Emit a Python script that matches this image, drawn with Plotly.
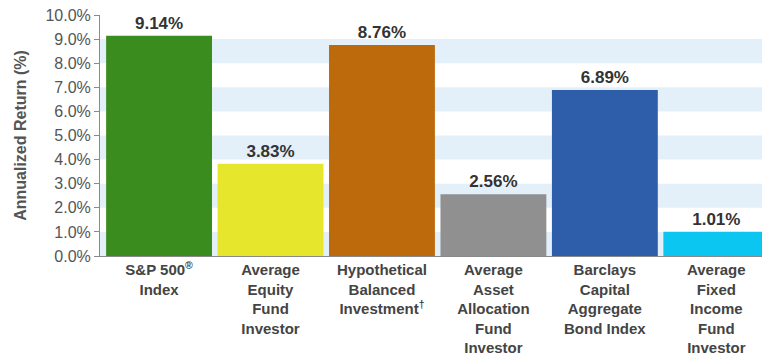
import plotly.graph_objects as go

categories = [
    "S&P 500<sup>®</sup><br>Index",
    "Average<br>Equity<br>Fund<br>Investor",
    "Hypothetical<br>Balanced<br>Investment<sup>†</sup>",
    "Average<br>Asset<br>Allocation<br>Fund<br>Investor",
    "Barclays<br>Capital<br>Aggregate<br>Bond Index",
    "Average<br>Fixed<br>Income<br>Fund<br>Investor",
]
values = [9.14, 3.83, 8.76, 2.56, 6.89, 1.01]
tick_vals = [0, 1, 2, 3, 4, 5, 6, 7, 8, 9, 10]
tick_text = [f"{v:.1f}%" for v in tick_vals]

bar_colors = ["#3a8c1e", "#e6e62c", "#bd6a0c", "#909090", "#2e5ea9", "#0bc6f0"]
band_color = "#e4f0f9"
font_family = "Liberation Sans, Arial, sans-serif"

fig = go.Figure()
fig.add_trace(go.Bar(
    x=list(range(len(categories))),
    y=values,
    marker=dict(color=bar_colors, line=dict(width=0)),
    width=0.95,
    text=[f"{v:.2f}%" for v in values],
    textposition="outside",
    textfont=dict(family=font_family, size=17, color="#333333", weight="bold"),
    cliponaxis=False,
    hoverinfo="skip",
))

shapes = []
for lo in tick_vals[:-1:2]:
    shapes.append(dict(type="rect", xref="paper", yref="y", x0=0, x1=1,
                       y0=lo, y1=lo + 1, fillcolor=band_color,
                       line=dict(width=0), layer="below"))

fig.update_layout(
    width=762, height=356,
    margin=dict(l=100, r=0, t=15, b=98),
    paper_bgcolor="white", plot_bgcolor="white",
    showlegend=False,
    shapes=shapes,
    font=dict(family=font_family),
)
fig.update_xaxes(
    range=[-0.53, 5.41],
    tickvals=list(range(len(categories))),
    ticktext=[f"<b>{c}</b>" for c in categories],
    tickfont=dict(size=15, color="#444444"),
    showline=True, linecolor="#8a8a8a", linewidth=1,
    ticks="", showgrid=False, zeroline=False,
)
fig.update_yaxes(
    range=[0, 10],
    tickvals=tick_vals, ticktext=tick_text,
    tickfont=dict(size=16, color="#555555"),
    ticks="outside", ticklen=5, tickcolor="#8a8a8a",
    showline=True, linecolor="#8a8a8a", linewidth=1,
    showgrid=False, zeroline=False,
    title=dict(text="<b>Annualized Return (%)</b>",
               font=dict(size=16, color="#555555"), standoff=14),
)

fig.write_html("out.html")
